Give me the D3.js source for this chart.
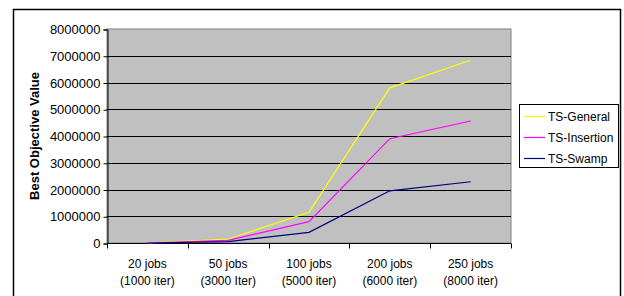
<!DOCTYPE html>
<html>
<head>
<meta charset="utf-8">
<script src="https://cdn.jsdelivr.net/npm/d3@7"></script>
<style>
  body { margin: 0; background: #fff; }
  svg { display: block; font-family: Arial, "Liberation Sans", sans-serif; }
</style>
</head>
<body>
<div id="chart"></div>
<script>
const categories = ["20 jobs|(1000 iter)", "50 jobs|(3000 Iter)", "100 jobs|(5000 iter)", "200 jobs|(6000 iter)", "250 jobs|(8000 iter)"];
const seriesNames = ["TS-General", "TS-Insertion", "TS-Swamp"];
const general = [0, 150000, 1150000, 5800000, 6830000];
const insertion = [0, 100000, 800000, 3900000, 4560000];
const swamp = [0, 50000, 400000, 1950000, 2290000];
const yTicks = [0, 1000000, 2000000, 3000000, 4000000, 5000000, 6000000, 7000000, 8000000];
const colors = ["#FFFF00", "#FF00FF", "#000080"];

const W = 624, H = 296;
const plot = { left: 107, top: 29, right: 511, bottom: 243 };

const svg = d3.select("#chart").append("svg")
  .attr("width", W).attr("height", H);

// outer chart border
svg.append("rect")
  .attr("x", 13.5).attr("y", 9.5)
  .attr("width", 607).attr("height", 300)
  .attr("fill", "white").attr("stroke", "#000").attr("stroke-width", 1.5);

const x = d3.scaleBand().domain(categories).range([plot.left, plot.right]);
const y = d3.scaleLinear().domain([0, 8000000]).range([plot.bottom, plot.top]);

// plot area
svg.append("rect")
  .attr("x", plot.left).attr("y", plot.top)
  .attr("width", plot.right - plot.left).attr("height", plot.bottom - plot.top)
  .attr("fill", "#C0C0C0").attr("stroke", "#808080").attr("stroke-width", 1);

// gridlines
svg.append("g").selectAll("line")
  .data(yTicks.slice(1, -1))
  .enter().append("line")
  .attr("x1", plot.left).attr("x2", plot.right)
  .attr("y1", d => Math.round(y(d)) + 0.5).attr("y2", d => Math.round(y(d)) + 0.5)
  .attr("stroke", "#000").attr("stroke-width", 1);

// y axis
const yAxis = d3.axisLeft(y).tickValues(yTicks).tickSize(4).tickPadding(3)
  .tickFormat(d3.format("d"));
const yg = svg.append("g")
  .attr("transform", `translate(${plot.left + 0.5},0.5)`)
  .call(yAxis);
yg.select(".domain").attr("stroke", "#000");
yg.selectAll("text").attr("font-size", 13).attr("fill", "#000");

// x axis
const xAxis = d3.axisBottom(x).tickSize(0).tickFormat("");
const xg = svg.append("g")
  .attr("transform", `translate(0,${plot.bottom + 0.5})`)
  .call(xAxis);
xg.select(".domain").attr("d", `M${plot.left},0H${plot.right}`).attr("stroke", "#000");
xg.selectAll(".tick").remove();
const edges = categories.map(c => x(c)).concat([plot.right]);
xg.selectAll("line.sep")
  .data(edges).enter().append("line")
  .attr("class", "sep")
  .attr("x1", d => Math.round(d) + 0.5).attr("x2", d => Math.round(d) + 0.5)
  .attr("y1", 0).attr("y2", 5)
  .attr("stroke", "#000");

const labels = svg.append("g").selectAll("text")
  .data(categories).enter().append("text")
  .attr("x", d => x(d) + x.bandwidth() / 2)
  .attr("y", 268)
  .attr("text-anchor", "middle")
  .attr("font-size", 12)
  .attr("fill", "#000");
labels.append("tspan").attr("x", d => x(d) + x.bandwidth() / 2).text(d => d.split("|")[0]);
labels.append("tspan").attr("x", d => x(d) + x.bandwidth() / 2).attr("dy", 17).text(d => d.split("|")[1]);

// y title
svg.append("text")
  .attr("transform", `translate(39,${(plot.top + plot.bottom) / 2}) rotate(-90)`)
  .attr("text-anchor", "middle")
  .attr("font-size", 13).attr("font-weight", "bold")
  .text("Best Objective Value");

// lines
const series = [general, insertion, swamp];
const line = d3.line()
  .x((d, i) => x(categories[i]) + x.bandwidth() / 2)
  .y(d => y(d));
svg.append("g").selectAll("path")
  .data(series).enter().append("path")
  .attr("d", line)
  .attr("fill", "none")
  .attr("stroke", (d, i) => colors[i])
  .attr("stroke-width", 1.2);

// legend
const lg = svg.append("g");
lg.append("rect")
  .attr("x", 519.5).attr("y", 104.5).attr("width", 99).attr("height", 63)
  .attr("fill", "white").attr("stroke", "#000");
const items = lg.selectAll("g.item").data(seriesNames).enter().append("g")
  .attr("transform", (d, i) => `translate(0,${116.5 + i * 21})`);
items.append("line")
  .attr("x1", 524).attr("x2", 545).attr("y1", 0).attr("y2", 0)
  .attr("stroke", (d, i) => colors[i]).attr("stroke-width", 1.2);
items.append("text")
  .attr("x", 548).attr("y", 4.3)
  .attr("font-size", 12).attr("fill", "#000")
  .text(d => d);
</script>
</body>
</html>
